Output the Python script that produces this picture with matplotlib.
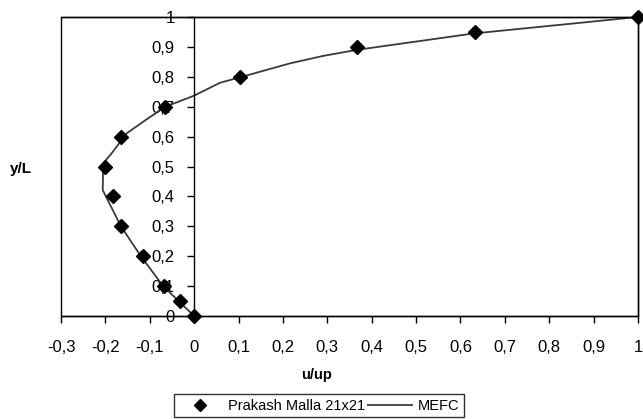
import numpy as np
import matplotlib.pyplot as plt
from matplotlib.patches import Rectangle

plt.rcParams['font.family'] = ['Liberation Sans', 'DejaVu Sans']

# Prakash Malla 21x21 points
malla_u = [0.0, -0.032, -0.067, -0.116, -0.165, -0.184, -0.201, -0.165, -0.065, 0.103, 0.366, 0.632, 1.0]
malla_y = [0.0, 0.05, 0.1, 0.2, 0.3, 0.4, 0.5, 0.6, 0.7, 0.8, 0.9, 0.95, 1.0]

# MEFC curve
mefc_u = [0.0, -0.07, -0.12, -0.165, -0.206, -0.205, -0.186, -0.152, -0.107, -0.065,
          0.0, 0.058, 0.1, 0.216, 0.291, 0.366, 0.63, 1.0]
mefc_y = [0.0, 0.1, 0.2, 0.3, 0.421, 0.511, 0.544, 0.611, 0.658, 0.7,
          0.737, 0.78, 0.797, 0.845, 0.870, 0.890, 0.945, 1.0]

xticks = [-0.3, -0.2, -0.1, 0, 0.1, 0.2, 0.3, 0.4, 0.5, 0.6, 0.7, 0.8, 0.9, 1]
yticks = [0, 0.1, 0.2, 0.3, 0.4, 0.5, 0.6, 0.7, 0.8, 0.9, 1]

def fmt(v):
    s = ('%g' % round(v, 2))
    return s.replace('.', ',')

fig = plt.figure(figsize=(6.43, 4.19), dpi=100)
ax = fig.add_axes([0.0949, 0.2458, 0.8973, 0.7136])

ax.plot(malla_u, malla_y, linestyle='none', marker='D', markersize=7.5,
        color='black', label='Prakash Malla 21x21', zorder=3, clip_on=False)
ax.plot(mefc_u, mefc_y, color='#3a3a3a', linewidth=1.3, label='MEFC', zorder=2)

ax.set_xlim(-0.3, 1)
ax.set_ylim(0, 1)

# y axis crosses at u=0
ax.spines['left'].set_position(('data', 0))
for s in ['top', 'right', 'bottom', 'left']:
    ax.spines[s].set_linewidth(1.0)
ax.add_patch(Rectangle((0, 0), 1, 1, transform=ax.transAxes, fill=False,
                       edgecolor='black', linewidth=1.0, clip_on=False, zorder=1))

ax.set_xticks(xticks)
ax.set_xticklabels([fmt(v) for v in xticks])
ax.set_yticks(yticks)
ax.set_yticklabels([fmt(v) for v in yticks])
ax.tick_params(axis='both', direction='out', length=5, width=1, labelsize=12,
               colors='black')
ax.tick_params(axis='x', pad=12)
ax.tick_params(axis='y', pad=9)

fig.text(0.033, 0.597, 'y/L', fontsize=11, fontweight='bold', ha='center', va='center')
fig.text(0.492, 0.104, 'u/up', fontsize=10.5, fontweight='bold', ha='center', va='center')

leg = fig.legend(loc='upper center', bbox_to_anchor=(0.496, 0.0764), ncol=2,
                 fontsize=10.5, frameon=True, fancybox=False, edgecolor='black',
                 handlelength=3.0, handletextpad=0.4, columnspacing=0.2,
                 borderpad=0.3, markerscale=0.75)
leg.get_frame().set_linewidth(1.0)

fig.savefig('out.png', dpi=100)
